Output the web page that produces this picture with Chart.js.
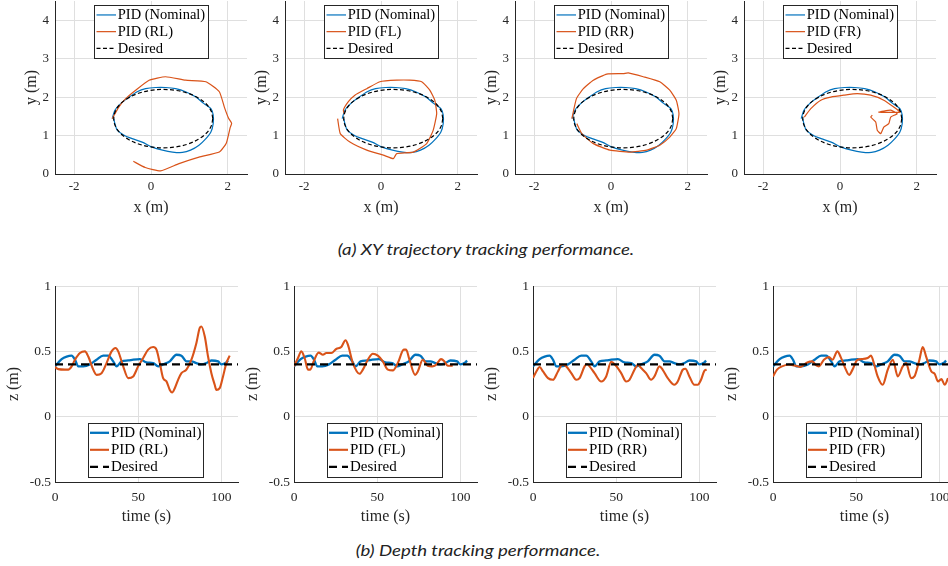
<!DOCTYPE html>
<html>
<head>
<meta charset="utf-8">
<script src="https://cdn.jsdelivr.net/npm/chart.js@4.4.1/dist/chart.umd.min.js"></script>
<style>
  html, body { margin: 0; padding: 0; background: #fff; width: 948px; height: 566px; overflow: hidden; position: relative; }
  canvas { position: absolute; }
  .cap { position: absolute; font-family: Lato, sans-serif; font-style: italic; font-size: 15px; color: #222;
         white-space: nowrap; transform: translate(-50%, -50%) scaleX(1.24); }
</style>
</head>
<body>
<canvas id="xy0" width="252" height="225" style="left:0px;top:0px"></canvas>
<canvas id="xy1" width="252" height="225" style="left:230px;top:0px"></canvas>
<canvas id="xy2" width="252" height="225" style="left:460px;top:0px"></canvas>
<canvas id="xy3" width="252" height="225" style="left:689px;top:0px"></canvas>
<div class="cap" style="left:486px;top:249px">(a) XY trajectory tracking performance.</div>
<canvas id="z0" width="243" height="259" style="left:0px;top:276px"></canvas>
<canvas id="z1" width="243" height="259" style="left:239px;top:276px"></canvas>
<canvas id="z2" width="243" height="259" style="left:478px;top:276px"></canvas>
<canvas id="z3" width="243" height="259" style="left:718px;top:276px"></canvas>
<div class="cap" style="left:478px;top:550px">(b) Depth tracking performance.</div>
<script>
// ---- tick labels / ranges
var xyTicksX = [-2, 0, 2];
var xyTicksY = [0, 1, 2, 3, 4];
var zTicksT = [0, 50, 100];
var zTicksZ = [-0.5, 0, 0.5, 1];

var faults = ["RL", "FL", "RR", "FR"];

// ---- XY trajectories (m)
var desX = [1.61, 1.566, 1.44, 1.232, 0.965, 0.654, 0.32, -0.014, -0.325, -0.592, -0.80, -0.926, -0.97,
            -0.926, -0.80, -0.592, -0.325, -0.014, 0.32, 0.654, 0.965, 1.232, 1.44, 1.566, 1.61];
var desY = [1.44, 1.637, 1.82, 1.977, 2.10, 2.174, 2.20, 2.174, 2.10, 1.977, 1.82, 1.637, 1.44,
            1.243, 1.06, 0.903, 0.78, 0.706, 0.68, 0.706, 0.78, 0.903, 1.06, 1.243, 1.44];

var nomX = [-1.01, -0.94, -0.79, -0.57, -0.36, -0.14, 0.12, 0.38, 0.64, 0.90, 1.17, 1.38, 1.56, 1.62, 1.62,
            1.56, 1.43, 1.25, 1.03, 0.82, 0.56, 0.30, 0.03, -0.23, -0.49, -0.70, -0.88, -0.94, -0.97];
var nomY = [1.44, 1.66, 1.83, 2.00, 2.14, 2.22, 2.25, 2.25, 2.22, 2.14, 2.00, 1.83, 1.70, 1.53, 1.31,
            1.09, 0.92, 0.75, 0.62, 0.56, 0.57, 0.62, 0.70, 0.83, 0.92, 1.01, 1.14, 1.31, 1.44];

var rlX = [-0.46, -0.15, 0.25, 0.73, 1.25, 1.78, 1.96, 2.06, 2.10, 2.02, 1.91, 1.78, 1.43, 0.90, 0.38, -0.05, -0.40, -0.66, -0.84, -1.01];
var rlY = [0.33, 0.17, 0.08, 0.27, 0.44, 0.57, 0.80, 1.20, 1.32, 1.45, 1.74, 2.14, 2.40, 2.44, 2.53, 2.44, 2.18, 1.96, 1.74, 1.44];

var flX = [-1.13, -1.06, -0.81, -0.37, 0.06, 0.32, 0.41, 0.84, 1.19, 1.36, 1.45, 1.40, 1.27, 1.06, 0.75, 0.41, -0.03, -0.37, -0.68, -0.85, -0.98, -0.95];
var flY = [1.44, 1.05, 0.83, 0.62, 0.49, 0.40, 0.53, 0.57, 0.79, 1.14, 1.57, 1.92, 2.18, 2.40, 2.44, 2.44, 2.40, 2.22, 2.05, 1.88, 1.66, 1.55];

var rrX = [-1.02, -0.90, -0.72, -0.46, -0.11, 0.32, 0.45, 0.84, 1.27, 1.53, 1.70, 1.77, 1.70, 1.53, 1.27, 0.93, 0.49, -0.03, -0.46, -0.76, -0.89];
var rrY = [1.44, 1.96, 2.22, 2.44, 2.60, 2.61, 2.63, 2.53, 2.40, 2.18, 1.92, 1.57, 1.18, 0.96, 0.75, 0.62, 0.57, 0.62, 0.79, 1.05, 1.31];

var frX = [-0.93, -0.76, -0.50, -0.24, 0.10, 0.45, 0.80, 1.14, 1.40, 1.56, 1.01, 1.32, 1.49, 1.32, 1.27, 1.14, 1.06, 0.97, 0.93, 0.80, 0.84];
var frY = [1.48, 1.70, 1.92, 2.00, 2.05, 2.09, 2.05, 1.92, 1.74, 1.61, 1.61, 1.66, 1.57, 1.48, 1.31, 1.22, 1.05, 1.14, 1.35, 1.48, 1.53];

// ---- depth z (m) vs time (s)
var desT = [0, 110];
var desZ = [0.4, 0.4];

var nomT = [0, 4, 7, 10, 12, 14, 17, 21, 25, 29, 32, 35, 37, 40, 44, 47, 51, 55, 59, 62, 65, 69, 73, 76, 79, 82, 85, 88, 91, 94, 98, 100, 103, 104];
var nomZ = [0.385, 0.44, 0.46, 0.467, 0.436, 0.385, 0.385, 0.40, 0.436, 0.467, 0.467, 0.423, 0.385, 0.423, 0.43, 0.436, 0.44,
            0.415, 0.41, 0.385, 0.40, 0.423, 0.474, 0.467, 0.423, 0.423, 0.41, 0.40, 0.41, 0.43, 0.423, 0.40, 0.415, 0.43];

var rlT = [0, 2, 6, 8, 10, 12, 15, 18, 20, 23, 25, 28, 31, 34, 36.4, 38, 41, 44, 47, 50, 53, 56, 59, 61, 63,
           65, 67, 69, 70.4, 72, 74, 76, 79, 82, 85, 87, 88, 90, 92, 94, 96, 97, 99, 101, 103, 105];
var rlZ = [0.38, 0.364, 0.36, 0.36, 0.385, 0.436, 0.487, 0.5, 0.46, 0.36, 0.32, 0.333, 0.41, 0.5, 0.526, 0.5, 0.385, 0.295, 0.308, 0.385,
           0.449, 0.513, 0.533, 0.513, 0.41, 0.295, 0.27, 0.205, 0.185, 0.218, 0.282, 0.333, 0.36, 0.436, 0.564, 0.68, 0.69, 0.615,
           0.46, 0.333, 0.244, 0.205, 0.218, 0.308, 0.41, 0.467];

var flT = [0, 2.4, 4.4, 6.4, 8.4, 9.8, 11.8, 14.8, 17.4, 19.4, 22.4, 25.4, 28.4, 31, 32.4, 35.4, 39.4, 41.4, 44.4, 47.4,
           50.4, 53.4, 56.4, 59.4, 62.4, 66, 67.4, 69.4, 72.8, 74.4, 77.4, 80.4, 83, 85.4, 88.4, 90.4, 92.4, 95.4];
var flZ = [0.385, 0.449, 0.5, 0.449, 0.36, 0.36, 0.423, 0.49, 0.474, 0.487, 0.487, 0.518, 0.533, 0.585, 0.551, 0.41, 0.328, 0.36,
           0.436, 0.482, 0.467, 0.423, 0.36, 0.354, 0.41, 0.513, 0.513, 0.436, 0.32, 0.346, 0.436, 0.39, 0.385, 0.397, 0.44, 0.423, 0.39, 0.39];

var rrT = [0, 2, 4, 6, 9, 12, 15, 17.6, 20, 23, 26, 28, 31, 32.4, 34, 37, 41, 44, 47, 49.4, 53, 56, 58, 61, 63,
           65, 68, 71, 73, 76, 78, 81, 85, 87, 90, 91.6, 94, 97, 99, 101, 103, 104.4];
var rrZ = [0.295, 0.346, 0.38, 0.346, 0.295, 0.282, 0.346, 0.397, 0.385, 0.333, 0.282, 0.295, 0.385, 0.403, 0.385, 0.333, 0.269,
           0.308, 0.42, 0.397, 0.333, 0.269, 0.282, 0.359, 0.397, 0.372, 0.333, 0.282, 0.308, 0.385, 0.359, 0.295, 0.244, 0.269,
           0.359, 0.367, 0.308, 0.244, 0.244, 0.282, 0.351, 0.36];

var frT = [0, 2.4, 5.4, 9.5, 13.5, 16.5, 20.6, 23.6, 25.6, 27.6, 30.6, 33.7, 35.7, 38.7, 40.7, 43.8, 45.8, 47.8, 50.8, 53.8,
           56.9, 58.9, 60.9, 62.9, 65.9, 69, 72, 75, 78, 80, 83, 85, 88, 90, 92, 95.2, 97.2, 99.2, 101.2, 103.2, 105.2];
var frZ = [0.308, 0.36, 0.385, 0.397, 0.39, 0.38, 0.415, 0.423, 0.397, 0.385, 0.436, 0.456, 0.436, 0.5, 0.456, 0.36, 0.32, 0.36,
           0.436, 0.441, 0.449, 0.467, 0.397, 0.308, 0.244, 0.36, 0.436, 0.308, 0.385, 0.41, 0.295, 0.308, 0.436, 0.533, 0.462,
           0.346, 0.328, 0.269, 0.287, 0.244, 0.295];

var xyFault = [[rlX, rlY], [flX, flY], [rrX, rrY], [frX, frY]];
var zFault = [[rlT, rlZ], [flT, flZ], [rrT, rrZ], [frT, frZ]];

var BLUE = "#0072BD", ORANGE = "#D95319", INK = "#262626", GRID = "#dfdfdf";
var SERIF = "'Liberation Serif', 'Times New Roman', serif";

function pts(xs, ys) {
  return xs.map(function (v, i) { return { x: v, y: ys[i] }; });
}

// legend box drawn inside the axes, like MATLAB's 'north' / 'south'
var boxLegend = {
  id: "boxLegend",
  afterDatasetsDraw: function (chart, args, o) {
    var ctx = chart.ctx, a = chart.chartArea;
    var sets = chart.data.datasets;
    ctx.save();
    ctx.font = o.font;
    var tw = 0;
    sets.forEach(function (d) { tw = Math.max(tw, ctx.measureText(d.label).width); });
    var w = Math.round(o.padL + o.lineLen + o.gap + tw + o.padR);
    var h = Math.round(o.rowH * sets.length + o.padV * 2);
    var x0 = Math.round((a.left + a.right) / 2 - w / 2 + (o.shift || 0));
    var y0 = o.where === "north" ? Math.round(a.top + o.margin) : Math.round(a.bottom - o.margin - h);
    ctx.fillStyle = "#fff";
    ctx.fillRect(x0, y0, w, h);
    ctx.strokeStyle = INK;
    ctx.lineWidth = 1;
    ctx.strokeRect(x0 + 0.5, y0 + 0.5, w, h);
    sets.forEach(function (d, i) {
      var cy = y0 + o.padV + o.rowH * (i + 0.5);
      ctx.beginPath();
      ctx.setLineDash(d.borderDash || []);
      ctx.strokeStyle = d.borderColor;
      ctx.lineWidth = d.borderWidth;
      ctx.moveTo(x0 + o.padL, cy);
      ctx.lineTo(x0 + o.padL + o.lineLen, cy);
      ctx.stroke();
      ctx.setLineDash([]);
      ctx.fillStyle = "#000";
      ctx.textBaseline = "middle";
      ctx.fillText(d.label, x0 + o.padL + o.lineLen + o.gap, cy + 0.5);
    });
    ctx.restore();
  }
};

function axis(min, max, ticks, title, tickSize, titleSize, fit, tickPad, titlePad) {
  return {
    type: "linear", min: min, max: max,
    afterBuildTicks: function (s) { s.ticks = ticks.map(function (v) { return { value: v }; }); },
    afterFit: function (s) {
      if (s.isHorizontal()) { s.height = fit; s.paddingLeft = 0; s.paddingRight = 0; }
      else { s.width = fit; s.paddingTop = 0; s.paddingBottom = 0; }
    },
    grid: { color: GRID, lineWidth: 1, drawTicks: false },
    border: { color: INK, width: 1 },
    ticks: { color: INK, padding: tickPad, font: { family: SERIF, size: tickSize },
             callback: function (v) { return String(v); } },
    title: { display: true, text: title, color: INK, padding: titlePad, font: { family: SERIF, size: titleSize } }
  };
}

function xyChart(i) {
  var f = xyFault[i];
  new Chart(document.getElementById("xy" + i), {
    type: "scatter",
    data: {
      datasets: [
        { label: "PID (Nominal)", data: pts(nomX, nomY), borderColor: BLUE, borderWidth: 1.2, order: 3 },
        { label: "PID (" + faults[i] + ")", data: pts(f[0], f[1]), borderColor: ORANGE, borderWidth: 1.2, order: 2, tension: 0.15 },
        { label: "Desired", data: pts(desX, desY), borderColor: "#000", borderWidth: 1.2, borderDash: [4, 2.5], order: 1, tension: 0.35 }
      ]
    },
    options: {
      responsive: false, animation: false, events: [],
      showLine: true,
      elements: { point: { radius: 0 }, line: { tension: 0.25, fill: false } },
      layout: { padding: { top: 1, right: 5, left: 0, bottom: 0 } },
      plugins: {
        legend: { display: false }, tooltip: { enabled: false },
        boxLegend: { where: "north", font: "14.5px " + SERIF, margin: 4, rowH: 16.7, padV: 1.6,
                     padL: 2.5, lineLen: 19.5, gap: 1.8, padR: 2.5 }
      },
      scales: {
        x: axis(-2.5, 2.5, xyTicksX, "x (m)", 13, 16, 51, 5, { top: 0, bottom: 8 }),
        y: axis(0, 4.5, xyTicksY, "y (m)", 13, 16, 55, 6, { top: 22.4, bottom: 0 })
      }
    },
    plugins: [boxLegend]
  });
}

function zChart(i) {
  var f = zFault[i];
  new Chart(document.getElementById("z" + i), {
    type: "scatter",
    data: {
      datasets: [
        { label: "PID (Nominal)", data: pts(nomT, nomZ), borderColor: BLUE, borderWidth: 2.3, order: 3 },
        { label: "PID (" + faults[i] + ")", data: pts(f[0], f[1]), borderColor: ORANGE, borderWidth: 2.1, order: 2 },
        { label: "Desired", data: pts(desT, desZ), borderColor: "#000", borderWidth: 2.2, borderDash: [8, 5], order: 1 }
      ]
    },
    options: {
      responsive: false, animation: false, events: [],
      showLine: true,
      elements: { point: { radius: 0 }, line: { cubicInterpolationMode: "monotone", fill: false } },
      layout: { padding: { top: 10, right: 5, left: 0, bottom: 0 } },
      plugins: {
        legend: { display: false }, tooltip: { enabled: false },
        boxLegend: { where: "south", font: "15px " + SERIF, margin: 5, rowH: 17, padV: 1.3,
                     padL: 2, lineLen: 19, gap: 2, padR: 1.5, shift: -1.5 }
      },
      scales: {
        x: axis(0, 110, zTicksT, "time (s)", 13.5, 16, 53, 7, { top: 0, bottom: 8.7 }),
        y: axis(-0.5, 1, zTicksZ, "z (m)", 13.5, 16, 55, 4, { top: 3.7, bottom: 0 })
      }
    },
    plugins: [boxLegend]
  });
}

for (var k = 0; k < 4; k++) { xyChart(k); zChart(k); }
</script>
</body>
</html>
